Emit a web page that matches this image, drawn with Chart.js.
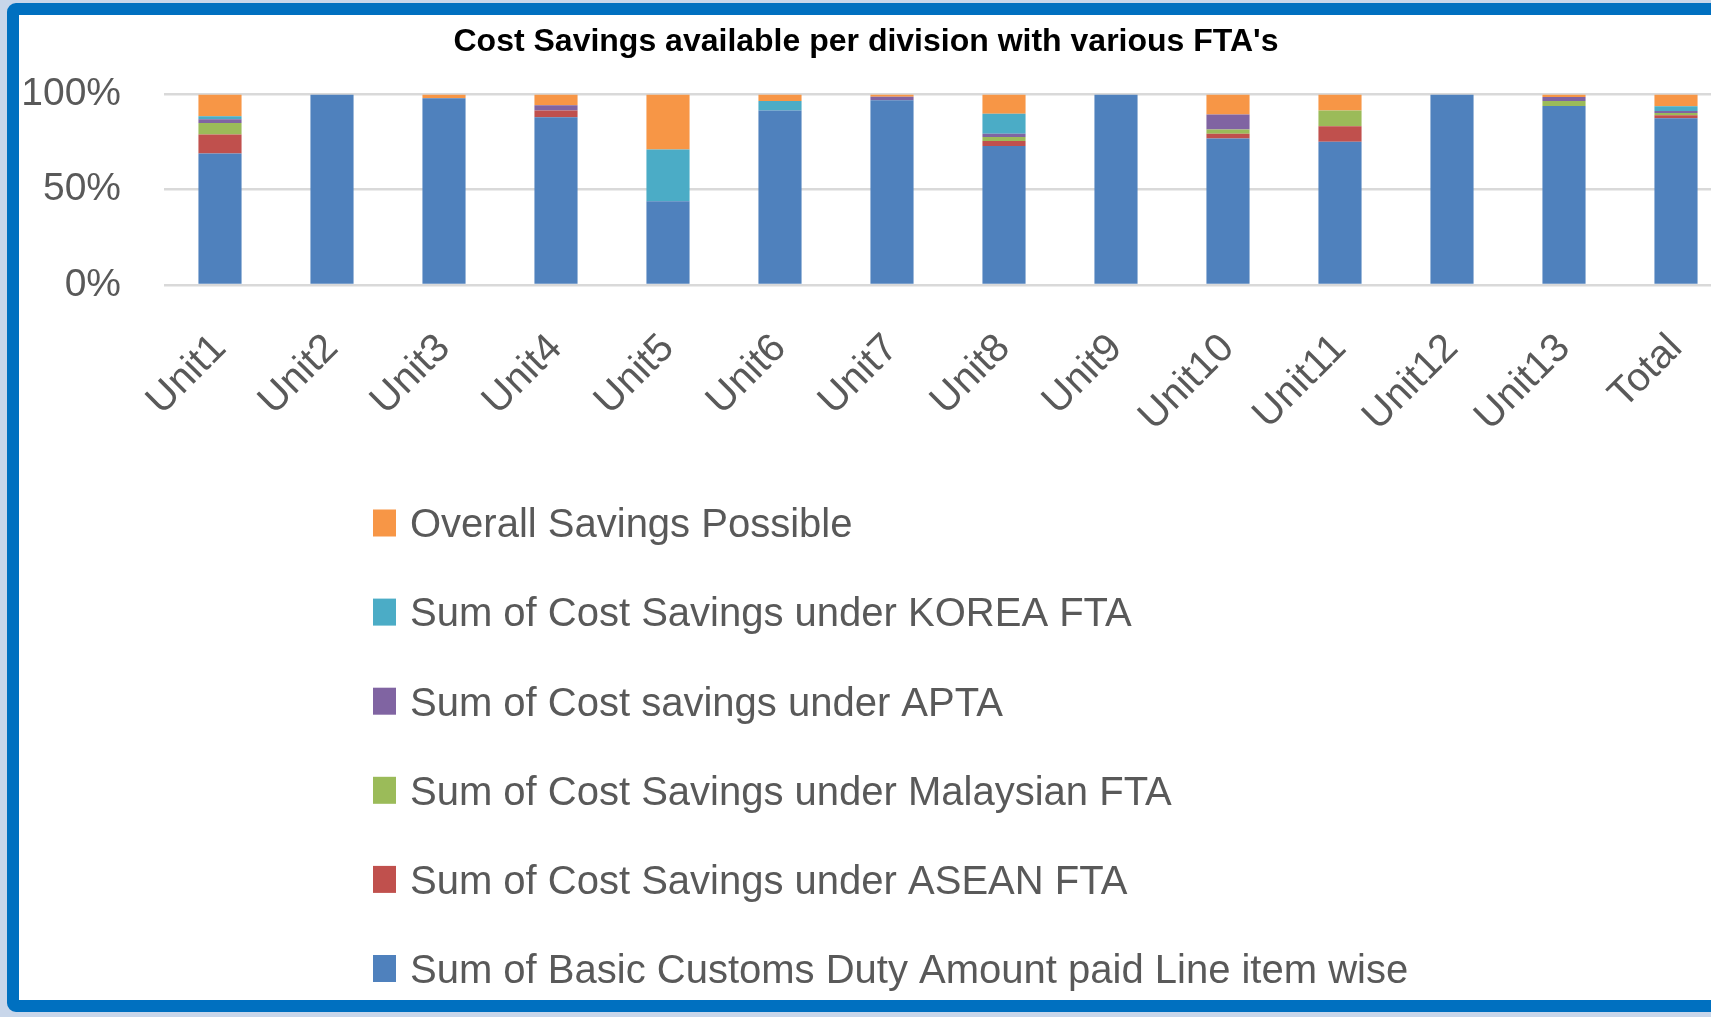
<!DOCTYPE html>
<html>
<head>
<meta charset="utf-8">
<script src="https://cdn.jsdelivr.net/npm/chart.js@4.4.1/dist/chart.umd.min.js"></script>
<style>
html,body{margin:0;padding:0;width:1711px;height:1017px;overflow:hidden;background:#C8D6EA;}
#frame{position:absolute;left:7px;top:3px;width:1800px;height:985px;border:12px solid #0070C0;border-radius:9px;background:#fff;}
#wrap{position:absolute;left:0;top:0;width:1760px;height:1017px;}
</style>
</head>
<body>
<div id="frame"></div>
<div id="wrap"><canvas id="c"></canvas></div>
<script>
const categories = ['Unit1','Unit2','Unit3','Unit4','Unit5','Unit6','Unit7','Unit8','Unit9','Unit10','Unit11','Unit12','Unit13','Total'];
const basicDuty   = [69, 100, 98, 88, 44, 91.6, 96.9, 72.9, 100, 76.9, 75.1, 100, 93.9, 87.5];
const aseanFTA    = [10, 0, 0, 3.5, 0, 0, 0, 2.6, 0, 2.4, 8.2, 0, 0, 1.6];
const malaysianFTA= [6, 0, 0, 0, 0, 0, 0, 2.1, 0, 2.3, 8.2, 0, 2.6, 1.2];
const aptaSavings = [2, 0, 0, 2.8, 0, 0, 1.9, 1.7, 0, 7.9, 0, 0, 2.1, 1.0];
const koreaFTA    = [1.5, 0, 0, 0, 27.1, 4.9, 0, 10.5, 0, 0, 0, 0, 0, 2.5];
const overallSavings = [11.5, 0, 2, 5.7, 28.9, 3.5, 1.2, 10.2, 0, 10.5, 8.5, 0, 1.4, 6.2];
const yTicks = [0, 50, 100];
const seriesNames = [
  'Sum of Basic Customs Duty Amount paid Line item wise',
  'Sum of Cost Savings under ASEAN FTA',
  'Sum of Cost Savings under Malaysian FTA',
  'Sum of Cost savings under APTA',
  'Sum of Cost Savings under KOREA FTA',
  'Overall Savings Possible'
];
const seriesColors = ['#4F81BD','#C0504D','#9BBB59','#8064A2','#4BACC6','#F79646'];
const seriesData = [basicDuty, aseanFTA, malaysianFTA, aptaSavings, koreaFTA, overallSavings];

const FONT = "'Liberation Sans', Arial, sans-serif";

const customLegend = {
  id: 'customLegend',
  afterDraw(chart) {
    const ctx = chart.ctx;
    const ds = chart.data.datasets;
    const x0 = 373, rowTop = 523, rowGap = 89.1;
    ctx.save();
    ctx.font = '40px ' + FONT;
    ctx.textAlign = 'left';
    ctx.textBaseline = 'alphabetic';
    for (let k = 0; k < ds.length; k++) {
      const d = ds[ds.length - 1 - k];
      const cy = rowTop + k * rowGap;
      ctx.fillStyle = d.backgroundColor;
      ctx.fillRect(x0, cy - 13.5, 23, 27);
      ctx.fillStyle = '#595959';
      ctx.fillText(d.label, 410, cy + 14.3);
    }
    ctx.restore();
  }
};

new Chart(document.getElementById('c'), {
  type: 'bar',
  data: {
    labels: categories,
    datasets: seriesData.map((arr, i) => ({
      label: seriesNames[i],
      data: arr,
      backgroundColor: seriesColors[i],
      borderWidth: 0,
      barPercentage: 0.385,
      categoryPercentage: 1
    }))
  },
  options: {
    responsive: true,
    maintainAspectRatio: false,
    animation: false,
    layout: { padding: { left: 0, right: 28, top: 0, bottom: 582 } },
    plugins: {
      legend: { display: false },
      tooltip: { enabled: false },
      title: {
        display: true,
        text: "Cost Savings available per division with various FTA's",
        color: '#000000',
        font: { family: FONT, size: 32, weight: 'bold' },
        padding: { top: 23, bottom: 33 }
      }
    },
    scales: {
      x: {
        stacked: true,
        grid: { display: false },
        border: { display: false },
        ticks: {
          color: '#595959',
          font: { family: FONT, size: 40 },
          minRotation: 45,
          maxRotation: 45,
          autoSkip: false,
          padding: 32
        },
        afterFit(scale) { scale.height = 150; }
      },
      y: {
        stacked: true,
        min: 0,
        max: 100,
        afterBuildTicks(scale) { scale.ticks = yTicks.map(v => ({ value: v })); },
        grid: { color: '#D9D9D9', lineWidth: 2.5, drawTicks: false },
        border: { display: false },
        ticks: {
          color: '#595959',
          font: { family: FONT, size: 39 },
          padding: 43,
          callback: v => v + '%'
        },
        afterFit(scale) { scale.width = 164; }
      }
    }
  },
  plugins: [customLegend]
});
</script>
</body>
</html>
